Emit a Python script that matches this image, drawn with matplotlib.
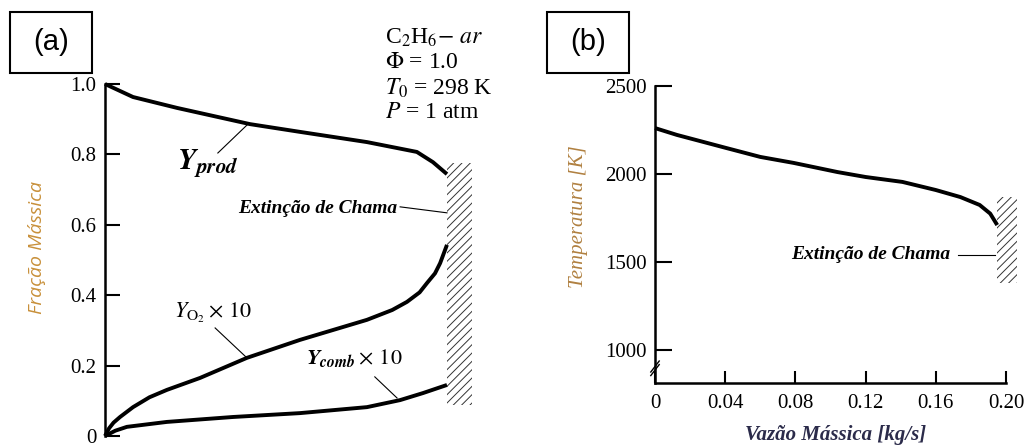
import numpy as np
import matplotlib.pyplot as plt
from matplotlib.patches import Rectangle

plt.rcParams['font.family'] = ['Liberation Serif', 'DejaVu Serif']
plt.rcParams['mathtext.fontset'] = 'stix'
plt.rcParams['hatch.linewidth'] = 0.7

# (a) mass fractions vs. normalised position up to flame extinction
x_a = [0, 0.082, 0.211, 0.424, 0.570, 0.766, 0.912, 0.959, 1.0]
y_prod = [1.0, 0.963, 0.932, 0.886, 0.864, 0.835, 0.807, 0.778, 0.744]

x_o2 = [0, 0.012, 0.025, 0.044, 0.082, 0.130, 0.181, 0.278, 0.415, 0.570,
        0.766, 0.840, 0.883, 0.920, 0.942, 0.965, 0.980, 1.0]
y_o2 = [0.0, 0.022, 0.038, 0.054, 0.082, 0.110, 0.131, 0.165, 0.222, 0.273,
        0.330, 0.358, 0.381, 0.408, 0.435, 0.462, 0.491, 0.543]

x_comb = [0, 0.030, 0.064, 0.181, 0.374, 0.570, 0.766, 0.863, 0.930, 1.0]
y_comb = [0.0, 0.015, 0.026, 0.040, 0.054, 0.065, 0.082, 0.102, 0.122, 0.145]

yticks_a = [0, 0.2, 0.4, 0.6, 0.8, 1.0]
yticklabels_a = ['0', '0.2', '0.4', '0.6', '0.8', '1.0']

# (b) temperature vs. mass flow rate
mdot = [0, 0.0125, 0.0405, 0.060, 0.079, 0.104, 0.120, 0.141, 0.160, 0.174,
        0.185, 0.191, 0.195]
temp = [2261, 2222, 2148, 2097, 2063, 2011, 1983, 1955, 1909, 1869,
        1824, 1775, 1710]

xticks_b = [0, 0.04, 0.08, 0.12, 0.16, 0.20]
xticklabels_b = ['0', '0.04', '0.08', '0.12', '0.16', '0.20']
yticks_b = [1000, 1500, 2000, 2500]

W, H = 1027, 446
fig = plt.figure(figsize=(W / 100, H / 100), dpi=100)

def px(x, y):
    return x / W, (H - y) / H

tick_font = 'Liberation Serif'

# ---------- panel (a) ----------
ax1 = fig.add_axes([105 / W, 10 / H, 383 / W, 352 / H])
ax1.set_xlim(0, 1.12)
ax1.set_ylim(0, 1)
for s in ['top', 'right', 'bottom']:
    ax1.spines[s].set_visible(False)
ax1.spines['left'].set_linewidth(1.8)
ax1.set_xticks([])
ax1.set_yticks(yticks_a)
ax1.set_yticklabels(yticklabels_a, fontfamily=tick_font)
ax1.tick_params(axis='y', direction='in', length=11, width=1.5, labelsize=15, pad=6)

lw = 2.8
ax1.plot(x_a, y_prod, color='black', lw=lw, clip_on=False, solid_capstyle='butt')
ax1.plot(x_o2, y_o2, color='black', lw=lw, clip_on=False, solid_capstyle='butt')
ax1.plot(x_comb, y_comb, color='black', lw=lw, clip_on=False, solid_capstyle='butt')

# extinction wall
ax1.add_patch(Rectangle((1.0, 0.088), 0.073, 0.688, fill=False, hatch='////',
                        edgecolor='#333333', lw=0, clip_on=False))

# curve labels and leaders
ax1.text(0.30, 0.776, r'$\mathbfit{Y}_{\mathbfit{prod}}$', fontsize=22,
         ha='center', va='center')
ax1.plot([0.33, 0.418], [0.804, 0.886], color='black', lw=0.8)
ax1.text(0.316, 0.349, r'$Y_{\mathrm{O}_2}\times\,10$', fontsize=16,
         ha='center', va='center')
ax1.plot([0.322, 0.415], [0.307, 0.222], color='black', lw=0.8)
ax1.text(0.728, 0.222, r'$\mathbfit{Y}_{\mathbfit{comb}}\times\,10$', fontsize=16,
         ha='center', va='center')
ax1.plot([0.789, 0.854], [0.168, 0.108], color='black', lw=0.8)
ax1.text(0.854, 0.645, 'Extinção de Chama', fontsize=14, style='italic',
         fontweight='bold', ha='right', va='center')
ax1.plot([0.863, 1.0], [0.651, 0.634], color='black', lw=0.8)

# operating conditions
params = [r'C$_2$H$_6$$-$ $\it{ar}$', r'$\Phi$ = 1.0',
          r'$T_0$ = 298 K', r'$P$ = 1 atm']
for txt, yy in zip(params, [38, 62, 88, 113]):
    fig.text(*px(385, yy), txt, fontsize=17, ha='left', va='center')

fig.text(*px(37, 247), 'Fração Mássica', rotation=90, ha='center', va='center',
         fontsize=14, style='italic', family='Open Sans', color='#c8903a')

# ---------- panel (b) ----------
ax2 = fig.add_axes([655 / W, 63 / H, 351 / W, 297 / H])
ax2.set_xlim(0, 0.20)
ax2.set_ylim(812.5, 2500)
for s in ['top', 'right']:
    ax2.spines[s].set_visible(False)
ax2.spines['left'].set_linewidth(1.8)
ax2.spines['bottom'].set_linewidth(1.8)
ax2.set_xticks(xticks_b)
ax2.set_xticklabels(xticklabels_b, fontfamily=tick_font)
ax2.set_yticks(yticks_b)
ax2.set_yticklabels([str(v) for v in yticks_b], fontfamily=tick_font)
ax2.tick_params(axis='y', direction='in', length=12, width=1.5, labelsize=15, pad=6)
ax2.tick_params(axis='x', direction='in', length=9, width=1.5, labelsize=15, pad=8)

ax2.plot(mdot, temp, color='black', lw=lw, clip_on=False, solid_capstyle='butt')

ax2.add_patch(Rectangle((0.1949, 1380), 0.0114, 490, fill=False, hatch='////',
                        edgecolor='#333333', lw=0, clip_on=False))
ax2.text(0.168, 1540, 'Extinção de Chama', fontsize=14, style='italic',
         fontweight='bold', ha='right', va='center')
ax2.plot([0.1727, 0.1937], [1540, 1540], color='black', lw=0.8)

# axis break marks
for dy in [0.0, 0.012]:
    ax2.plot([-0.012, 0.012], [0.025 + dy, 0.062 + dy], transform=ax2.transAxes,
             color='black', lw=1.0, clip_on=False)

fig.text(*px(578, 217), 'Temperatura [K]', rotation=90, ha='center', va='center',
         fontsize=15, style='italic', color='#b08040')
fig.text(*px(836, 435), 'Vazão Mássica [kg/s]', ha='center', va='center',
         fontsize=15, style='italic', fontweight='bold', color='#2b2b4a')

# ---------- panel tags ----------
for label, x0 in [('(a)', 10), ('(b)', 547)]:
    fig.add_artist(Rectangle(px(x0, 73), 82 / W, 61 / H, transform=fig.transFigure,
                             fill=False, lw=1.5, edgecolor='black'))
    fig.text(*px(x0 + 41, 42), label, fontsize=21, family='Liberation Sans',
             ha='center', va='center')

fig.savefig('out.png', dpi=100)
